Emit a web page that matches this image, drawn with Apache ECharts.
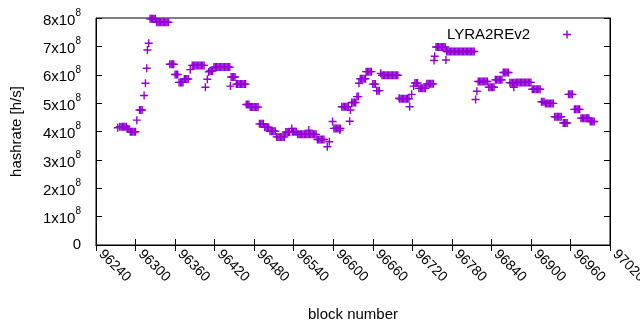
<!DOCTYPE html>
<html>
<head>
<meta charset="utf-8">
<script src="https://cdn.jsdelivr.net/npm/echarts@6/dist/echarts.min.js"></script>
<style>
  html, body { margin: 0; padding: 0; background: #fff; }
  #chart { width: 640px; height: 330px; }
</style>
</head>
<body>
<div id="chart"></div>
<script>
// block numbers and hashrate (units of 10^8 h/s)
var blockNo = [
    96273,
    96276, 96278, 96280, 96282, 96284, 96286,
    96288, 96290,
    96292, 96294, 96296, 96298, 96300,
    96302,
    96306, 96308, 96310,
    96313, 96315, 96317, 96318, 96320,
    96322, 96324, 96326, 96328, 96330,
    96332, 96334, 96336, 96338, 96340, 96342, 96344, 96346, 96348, 96350,
    96352, 96354, 96356, 96358,
    96360, 96362, 96364,
    96366, 96368, 96370, 96372,
    96374, 96376, 96378, 96380,
    96383,
    96386, 96388, 96390, 96392, 96394, 96396, 96398, 96400, 96402, 96404,
    96406, 96409, 96411,
    96413, 96415, 96417,
    96419, 96421, 96423, 96425, 96427, 96429, 96431, 96433, 96435, 96437, 96439, 96441, 96443,
    96444,
    96445, 96447, 96449, 96451,
    96453, 96455, 96457, 96459, 96461, 96463, 96465, 96467,
    96468, 96470, 96472,
    96474, 96476, 96478, 96480, 96482, 96484, 96486,
    96488, 96490, 96492, 96494,
    96496, 96498, 96500, 96502,
    96504, 96506, 96508, 96510, 96512,
    96514, 96516, 96518, 96520, 96522, 96524, 96526,
    96528, 96530, 96532, 96534,
    96537,
    96538, 96540, 96542, 96544,
    96546, 96548, 96550, 96552, 96554, 96556, 96558, 96560,
    96563,
    96562, 96564, 96566, 96568, 96570, 96572, 96574,
    96576, 96578, 96580, 96582, 96584, 96586,
    96591, 96594, 96599,
    96601, 96603, 96605, 96607, 96609, 96611,
    96610,
    96613, 96615, 96617, 96619, 96621, 96623,
    96625, 96626,
    96628, 96630, 96632, 96634,
    96636, 96638,
    96639,
    96641, 96643, 96645, 96647, 96649,
    96650, 96652, 96654, 96656, 96658,
    96660, 96662, 96664,
    96666, 96668, 96670,
    96672,
    96674, 96676, 96678, 96680, 96682, 96684, 96686, 96688, 96690, 96692, 96694, 96696, 96698,
    96700,
    96701, 96703, 96705, 96707, 96709, 96711, 96713, 96715,
    96716, 96719, 96722,
    96724, 96726, 96728,
    96730, 96732, 96734, 96736, 96738, 96740,
    96742, 96744, 96746, 96748, 96750, 96752,
    96753, 96754,
    96756, 96758, 96760, 96762, 96764, 96766, 96768, 96770,
    96771,
    96772, 96774, 96776, 96778, 96780, 96782, 96784, 96786, 96788, 96790, 96792, 96794, 96796, 96798, 96800, 96802, 96804, 96806, 96808, 96810, 96812, 96814,
    96816, 96818,
    96820, 96822, 96824, 96826, 96828, 96830, 96832, 96834,
    96836, 96838, 96840, 96842, 96844,
    96846, 96848, 96850, 96852, 96854, 96856,
    96858, 96860, 96862, 96864, 96866,
    96868, 96870, 96872, 96874, 96876,
    96874,
    96878, 96880, 96882, 96884, 96886, 96888, 96890, 96892, 96894, 96896, 96898, 96900,
    96902, 96904, 96906, 96908, 96910, 96912, 96914,
    96916, 96918, 96920,
    96922, 96924, 96926, 96928, 96930, 96932, 96934,
    96936, 96938, 96940, 96942, 96944, 96946,
    96949, 96951, 96953, 96955,
    96957, 96959, 96961, 96963,
    96966, 96968, 96970, 96972, 96974,
    96976, 96978, 96980, 96982, 96984, 96986, 96988,
    96990, 96992, 96994, 96996
];
var hashrate = [
    4.13,
    4.17, 4.17, 4.17, 4.17, 4.17, 4.17,
    4.09, 4.09,
    3.99, 3.99, 3.99, 3.99, 3.99,
    4.40,
    4.76, 4.76, 4.76,
    5.27, 5.70, 6.23, 6.87, 7.11,
    7.97, 7.97, 7.97, 7.97, 7.97,
    7.85, 7.85, 7.85, 7.85, 7.85, 7.85, 7.85, 7.85, 7.85, 7.85,
    6.37, 6.37, 6.37, 6.37,
    6.01, 6.01, 6.01,
    5.73, 5.73, 5.73, 5.73,
    5.85, 5.85, 5.85, 5.85,
    6.18,
    6.33, 6.33, 6.33, 6.33, 6.33, 6.33, 6.33, 6.33, 6.33, 6.33,
    5.56, 5.84, 6.10,
    6.13, 6.13, 6.13,
    6.27, 6.27, 6.27, 6.27, 6.27, 6.27, 6.27, 6.27, 6.27, 6.27, 6.27, 6.27, 6.27,
    5.60,
    5.92, 5.92, 5.92, 5.92,
    5.67, 5.67, 5.67, 5.67, 5.67, 5.67, 5.67, 5.67,
    4.95, 4.95, 4.95,
    4.86, 4.86, 4.86, 4.86, 4.86, 4.86, 4.86,
    4.27, 4.27, 4.27, 4.27,
    4.15, 4.15, 4.15, 4.15,
    4.01, 4.01, 4.01, 4.01, 4.01,
    3.81, 3.81, 3.81, 3.81, 3.81, 3.81, 3.81,
    3.98, 3.98, 3.98, 3.98,
    4.11,
    3.99, 3.99, 3.99, 3.99,
    3.90, 3.90, 3.90, 3.90, 3.90, 3.90, 3.90, 3.90,
    4.05,
    3.90, 3.90, 3.90, 3.90, 3.90, 3.90, 3.90,
    3.72, 3.72, 3.72, 3.72, 3.72, 3.72,
    3.46, 3.64, 4.35,
    4.11, 4.11, 4.11, 4.11, 4.11, 4.11,
    4.05,
    4.87, 4.87, 4.87, 4.87, 4.87, 4.87,
    4.36, 4.76,
    5.02, 5.02, 5.02, 5.02,
    5.23, 5.23,
    5.70,
    5.86, 5.86, 5.86, 5.86, 5.86,
    6.11, 6.11, 6.11, 6.11, 6.11,
    5.67, 5.67, 5.67,
    5.44, 5.44, 5.44,
    6.05,
    5.98, 5.98, 5.98, 5.98, 5.98, 5.98, 5.98, 5.98, 5.98, 5.98, 5.98, 5.98, 5.98,
    5.17,
    5.15, 5.15, 5.15, 5.15, 5.15, 5.15, 5.15, 5.15,
    4.87, 5.31, 5.60,
    5.71, 5.71, 5.71,
    5.52, 5.52, 5.52, 5.52, 5.52, 5.52,
    5.68, 5.68, 5.68, 5.68, 5.68, 5.68,
    6.50, 6.65,
    6.98, 6.98, 6.98, 6.98, 6.98, 6.98, 6.98, 6.98,
    6.52,
    6.82, 6.82, 6.82, 6.82, 6.82, 6.82, 6.82, 6.82, 6.82, 6.82, 6.82, 6.82, 6.82, 6.82, 6.82, 6.82, 6.82, 6.82, 6.82, 6.82, 6.82, 6.82,
    5.13, 5.42,
    5.76, 5.76, 5.76, 5.76, 5.76, 5.76, 5.76, 5.76,
    5.56, 5.56, 5.56, 5.56, 5.56,
    5.82, 5.82, 5.82, 5.82, 5.82, 5.82,
    6.08, 6.08, 6.08, 6.08, 6.08,
    5.72, 5.72, 5.72, 5.72, 5.72,
    5.56,
    5.73, 5.73, 5.73, 5.73, 5.73, 5.73, 5.73, 5.73, 5.73, 5.73, 5.73, 5.73,
    5.49, 5.49, 5.49, 5.49, 5.49, 5.49, 5.49,
    5.05, 5.05, 5.05,
    4.99, 4.99, 4.99, 4.99, 4.99, 4.99, 4.99,
    4.52, 4.52, 4.52, 4.52, 4.52, 4.52,
    4.30, 4.30, 4.30, 4.30,
    5.31, 5.31, 5.31, 5.31,
    4.78, 4.78, 4.78, 4.78, 4.78,
    4.47, 4.47, 4.47, 4.47, 4.47, 4.47, 4.47,
    4.35, 4.35, 4.35, 4.35
];
var seriesName = 'LYRA2REv2';

var font = '"Liberation Sans", Arial, sans-serif';
var purple = '#9400d3';
var plus = 'path://M0,3.3H8V4.7H0Z M3.3,0H4.7V8H3.3Z';

var points = [];
for (var i = 0; i < blockNo.length && i < hashrate.length; i++) {
    points.push([blockNo[i], hashrate[i]]);
}

var tickStyle = {show: true, inside: true, length: 6, lineStyle: {color: '#000', width: 1}};
var lineStyle = {show: true, lineStyle: {color: '#000', width: 1}};

var myChart = echarts.init(document.getElementById('chart'));
myChart.setOption({
    animation: false,
    backgroundColor: '#fff',
    textStyle: {fontFamily: font, color: '#000'},
    grid: {
        left: 96, right: 30, top: 18, bottom: 85,
        outerBoundsMode: 'none',
        containLabel: false,
        show: true, borderColor: '#000', borderWidth: 1
    },
    legend: {
        data: [seriesName],
        right: 64,
        top: 22,
        align: 'right',
        icon: plus,
        itemWidth: 8,
        itemHeight: 8,
        itemStyle: {color: purple, opacity: 1},
        textStyle: {fontFamily: font, fontSize: 15, color: '#000', padding: [0, 28, 0, 0]}
    },
    xAxis: [{
        type: 'value',
        min: 96240,
        max: 97020,
        interval: 60,
        name: 'block number',
        nameLocation: 'middle',
        nameGap: 62,
        nameTextStyle: {fontFamily: font, fontSize: 15, color: '#000'},
        axisLine: lineStyle,
        axisTick: tickStyle,
        splitLine: {show: false},
        axisLabel: {
            rotate: -45, margin: 12, fontFamily: font, fontSize: 14, color: '#000',
            align: 'left', verticalAlign: 'bottom',
            formatter: function (v) { return String(v); }
        }
    }, {
        type: 'value',
        position: 'top',
        min: 96240,
        max: 97020,
        interval: 60,
        axisLine: lineStyle,
        axisTick: tickStyle,
        splitLine: {show: false},
        axisLabel: {show: false}
    }],
    yAxis: [{
        type: 'value',
        min: 0,
        max: 8,
        interval: 1,
        name: 'hashrate [h/s]',
        nameLocation: 'middle',
        nameGap: 72,
        nameTextStyle: {fontFamily: font, fontSize: 15, color: '#000'},
        axisLine: lineStyle,
        axisTick: tickStyle,
        splitLine: {show: false},
        axisLabel: {
            margin: 15,
            fontFamily: font,
            fontSize: 15,
            color: '#000',
            formatter: function (v) {
                return v === 0 ? '0' : '{m|' + v + 'x10}{s|8}';
            },
            rich: {
                m: {fontFamily: font, fontSize: 15, color: '#000', lineHeight: 20, verticalAlign: 'bottom'},
                s: {fontFamily: font, fontSize: 10, color: '#000', lineHeight: 10, verticalAlign: 'top'}
            }
        }
    }, {
        type: 'value',
        position: 'right',
        min: 0,
        max: 8,
        interval: 1,
        axisLine: lineStyle,
        axisTick: tickStyle,
        splitLine: {show: false},
        axisLabel: {show: false}
    }],
    series: [{
        name: seriesName,
        type: 'scatter',
        symbol: plus,
        symbolSize: 8,
        itemStyle: {color: purple, opacity: 1},
        data: points
    }]
});
</script>
</body>
</html>
